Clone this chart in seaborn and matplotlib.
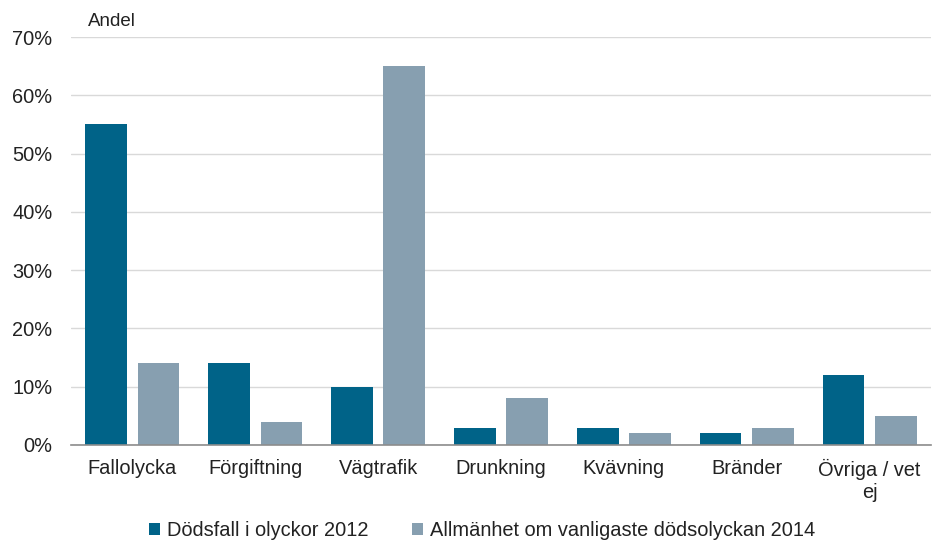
import matplotlib
matplotlib.use("Agg")
import matplotlib.pyplot as plt
import seaborn as sns
import pandas as pd
from matplotlib.ticker import FuncFormatter
from matplotlib.patches import Patch

categories = ["Fallolycka", "Förgiftning", "Vägtrafik", "Drunkning", "Kvävning", "Bränder", "Övriga / vet\nej"]
series_names = ["Dödsfall i olyckor 2012", "Allmänhet om vanligaste dödsolyckan 2014"]
deaths_2012 = [55, 14, 10, 3, 3, 2, 12]
public_2014 = [14, 4, 65, 8, 2, 3, 5]
yticks = [0, 10, 20, 30, 40, 50, 60, 70]
colors = ["#006388", "#879FB0"]

df = pd.DataFrame({
    "Kategori": categories * 2,
    "Serie": [series_names[0]] * len(categories) + [series_names[1]] * len(categories),
    "Andel": deaths_2012 + public_2014,
})

sns.set_theme(style="white")
plt.rcParams["font.family"] = ["Liberation Sans", "DejaVu Sans"]

fig = plt.figure(figsize=(9.38, 5.45), dpi=100)
ax = fig.add_axes([0.0757, 0.1835, 0.9168, 0.7485])

sns.barplot(data=df, x="Kategori", y="Andel", hue="Serie", palette=colors,
            width=0.85, gap=0.2, ax=ax, legend=False, saturation=1, linewidth=0)

ax.set_ylim(0, 70)
ax.set_xlim(-0.5, len(categories) - 0.5)
ax.set_yticks(yticks)
ax.yaxis.set_major_formatter(FuncFormatter(lambda v, p: f"{int(v)}%"))
ax.grid(axis="y", color="#D9D9D9", linewidth=1)
ax.set_axisbelow(True)
for s in ["top", "right", "left"]:
    ax.spines[s].set_visible(False)
ax.spines["bottom"].set_color("#8C8C8C")
ax.spines["bottom"].set_linewidth(1.2)
ax.tick_params(axis="both", length=0, labelsize=14.4, colors="#222222")
ax.tick_params(axis="y", pad=13.5)
ax.tick_params(axis="x", pad=10)
ax.set_xlabel("")
ax.set_ylabel("")

fig.text(88 / 938, 1 - 21 / 545, "Andel", fontsize=13.5, color="#222222", va="center", ha="left")

handles = [Patch(facecolor=c, edgecolor="none") for c in colors]
fig.legend(handles, series_names, loc="center", bbox_to_anchor=(0.514, 1 - 531 / 545),
           ncol=2, frameon=False, fontsize=14.4, handlelength=0.55, handleheight=0.55,
           handletextpad=0.35, columnspacing=2.2, labelcolor="#222222")

fig.savefig("out.png", dpi=100)
